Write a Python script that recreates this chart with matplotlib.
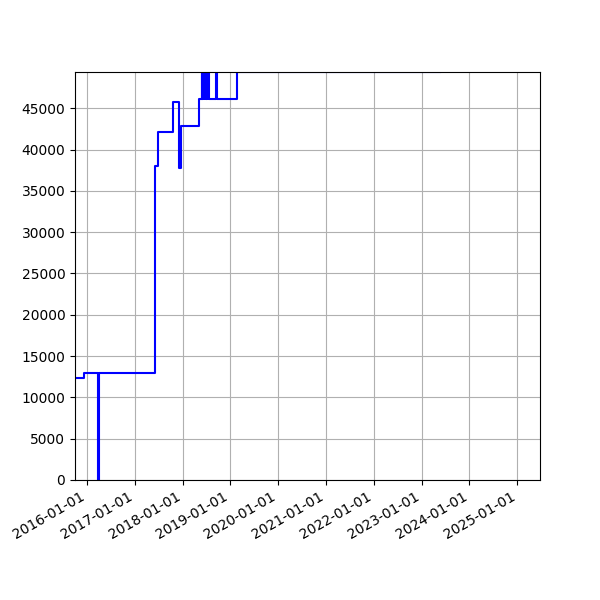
import numpy as np
import matplotlib
matplotlib.use("Agg")
import matplotlib.pyplot as plt
import matplotlib.dates as mdates
from matplotlib.ticker import MultipleLocator

# step series
dates = [
    "2015-10-03", "2015-12-14", "2016-03-30", "2016-04-01",
    "2017-06-07", "2017-06-27", "2017-10-22", "2017-12-04", "2017-12-23",
    "2018-05-06",
    "2018-05-29", "2018-06-01", "2018-06-03", "2018-06-06", "2018-06-09",
    "2018-06-12", "2018-06-15", "2018-06-19", "2018-06-24", "2018-06-29",
    "2018-07-05", "2018-07-12", "2018-07-18", "2018-07-25",
    "2018-09-16", "2018-09-23",
    "2019-02-24", "2023-05-20",
]
values = [
    12400, 13000, 0, 13000,
    38000, 42150, 45800, 37800, 42900,
    46100,
    49400, 46100, 49400, 46100, 49400,
    46100, 49400, 46100, 49400, 46100,
    49400, 46100, 49400, 46100,
    49400, 46100,
    49340, 49340,
]

x = np.array(dates, dtype="datetime64[D]")
y = np.array(values)

fig, ax = plt.subplots(figsize=(6, 6), dpi=100)
ax.plot(x, y, color="blue", drawstyle="steps-post", linewidth=1.5)

ax.set_xlim(np.datetime64("2015-10-03"), np.datetime64("2025-06-23"))
ax.set_ylim(0, 49380)
ax.xaxis.set_major_locator(mdates.YearLocator())
ax.xaxis.set_major_formatter(mdates.DateFormatter("%Y-%m-%d"))
ax.yaxis.set_major_locator(MultipleLocator(5000))
ax.grid(True)
fig.autofmt_xdate()

fig.savefig("out.png")
